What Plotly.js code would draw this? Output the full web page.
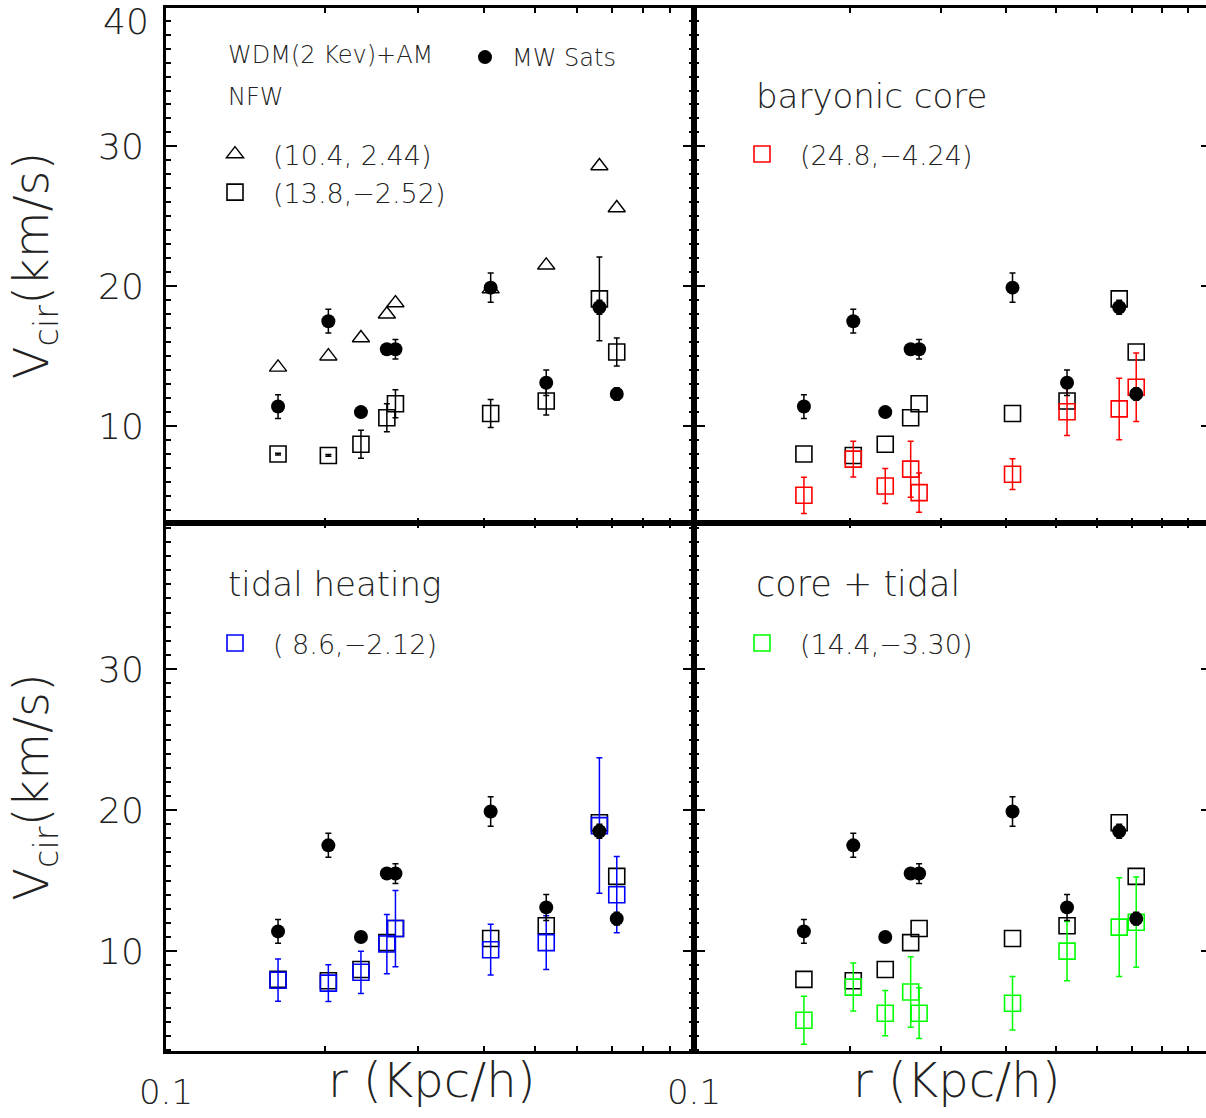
<!DOCTYPE html>
<html><head><meta charset="utf-8">
<script src="https://cdn.plot.ly/plotly-3.0.1.min.js"></script>
<style>html,body{margin:0;padding:0;overflow:hidden;background:#fff}</style>
</head><body><div id="chart" style="width:1220px;height:1118px"></div>
<script>
// ---- data ----
const radius = [0.163, 0.203, 0.234, 0.262, 0.272, 0.412, 0.525, 0.662, 0.714];
const mwSatsV = [11.4, 17.5, 11.0, 15.5, 15.5, 19.9, 13.1, 18.5, 12.3];
const mwSatsErr = [0.85, 0.85, 0.3, 0.3, 0.7, 1.05, 0.92, 0.5, 0.45];
const nfwTriV = [14.2, 15.0, 16.3, 18.0, 18.8, 19.8, 21.5, 28.6, 25.6];
const nfwSqV = [8.0, 7.9, 8.7, 10.6, 11.6, 10.9, 11.8, 19.1, 15.3];
const nfwSqErr = [0.06, 0.06, 1.0, 1.0, 1.0, 1.0, 1.0, 3.0, 1.0];
const coreV = [5.05, 7.64, 5.72, 6.92, 5.24, 6.56, 11.03, 11.23, 12.78];
const coreErr = [1.3, 1.28, 1.25, 2.0, 1.4, 1.1, 1.7, 2.2, 2.45];
const tidalV = [7.94, 7.73, 8.5, 10.5, 11.6, 10.1, 10.6, 18.9, 14.0];
const tidalErr = [1.5, 1.3, 1.5, 2.1, 2.7, 1.8, 1.9, 4.8, 2.7];
const coreTidalV = [5.1, 7.45, 5.6, 7.1, 5.6, 6.3, 10.0, 11.7, 12.05];
const coreTidalErr = [1.7, 1.7, 1.6, 2.5, 1.8, 1.9, 2.1, 3.5, 3.2];

const labelTri = "(10.4, 2.44)";
const labelSq = "(13.8,\u22122.52)";
const labelCore = "(24.8,\u22124.24)";
const labelTidal = "( 8.6,\u22122.12)";
const labelCoreTidal = "(14.4,\u22123.30)";
const labelMW = "MW Sats";
const panelTitles = ["baryonic core", "tidal heating", "core + tidal"];
const xTickVals = [0.1];
const xTickText = ["0.1"];
const xMinorVals = [0.2, 0.3, 0.4, 0.5, 0.6, 0.7, 0.8, 0.9];
const yTickVals = [10, 20, 30];
const yTickText = ["10", "20", "30"];

// ---- styling ----
const FONT = "DejaVu Sans";
const BLACK = "#000000", RED = "#ff0000", BLUE = "#0000ff", GREEN = "#00ff00";
const panels = [["x", "y"], ["x2", "y2"], ["x3", "y3"], ["x4", "y4"]];

function errs(arr, color) {
  return {type: "data", array: arr, visible: true, color: color, thickness: 1.5, width: 3};
}
function sq(color) { return {symbol: "square-open", size: 16, color: color, line: {width: 1.6, color: color}}; }

const traces = [];
// black NFW squares
panels.forEach((p, i) => {
  traces.push({
    type: "scatter", mode: "markers", x: radius, y: nfwSqV, xaxis: p[0], yaxis: p[1],
    name: labelSq, showlegend: i === 0, legend: "legend", legendrank: 2,
    marker: sq(BLACK), error_y: i === 0 ? errs(nfwSqErr, BLACK) : {visible: false}
  });
});
// coloured model squares
traces.push({type: "scatter", mode: "markers", x: radius, y: coreV, xaxis: "x2", yaxis: "y2",
  name: labelCore, legend: "legend3", marker: sq(RED), error_y: errs(coreErr, RED)});
traces.push({type: "scatter", mode: "markers", x: radius, y: tidalV, xaxis: "x3", yaxis: "y3",
  name: labelTidal, legend: "legend4", marker: sq(BLUE), error_y: errs(tidalErr, BLUE)});
traces.push({type: "scatter", mode: "markers", x: radius, y: coreTidalV, xaxis: "x4", yaxis: "y4",
  name: labelCoreTidal, legend: "legend5", marker: sq(GREEN), error_y: errs(coreTidalErr, GREEN)});
// triangles
traces.push({type: "scatter", mode: "markers", x: radius, y: nfwTriV, xaxis: "x", yaxis: "y",
  name: labelTri, legend: "legend", legendrank: 1,
  marker: {symbol: "triangle-up-open", size: 15, color: BLACK, line: {width: 1.4, color: BLACK}}});
// MW satellites (filled circles)
panels.forEach((p, i) => {
  traces.push({
    type: "scatter", mode: "markers", x: radius, y: mwSatsV, xaxis: p[0], yaxis: p[1],
    name: labelMW, showlegend: i === 0, legend: "legend2",
    marker: {symbol: "circle", size: 14, color: BLACK}, error_y: errs(mwSatsErr, BLACK)
  });
});

const XS = 528 / 1046, YS = 528 / 1043;
function xax(dom, anchor, showLabels) {
  return {domain: dom, anchor: anchor, type: "log", range: [-1, 0],
    tickmode: "array", tickvals: xTickVals, ticktext: xTickText, showticklabels: showLabels,
    ticks: "inside", ticklen: 5, tickwidth: 2, tickcolor: BLACK,
    minor: {tickmode: "array", tickvals: xMinorVals, ticks: "inside", ticklen: 5, tickwidth: 2, tickcolor: BLACK, showgrid: false},
    showline: true, linewidth: 3, linecolor: BLACK, mirror: "ticks",
    showgrid: false, zeroline: false, ticklabelstandoff: 9,
    tickfont: {family: FONT, size: 34, color: "#222", weight: 200}};
}
function yax(dom, anchor, range, showLabels, withTitle) {
  const a = {domain: dom, anchor: anchor, range: range,
    tickmode: "array", tickvals: yTickVals, ticktext: yTickText, showticklabels: showLabels,
    ticks: "inside", ticklen: 11, tickwidth: 2, tickcolor: BLACK,
    minor: {tickmode: "linear", tick0: 0, dtick: 1, ticks: "inside", ticklen: 5, tickwidth: 2, tickcolor: BLACK, showgrid: false},
    showline: true, linewidth: 3, linecolor: BLACK, mirror: "ticks",
    showgrid: false, zeroline: false, ticklabelstandoff: 12,
    tickfont: {family: FONT, size: 36, color: "#222", weight: 200}};
  if (withTitle) a.title = {text: "V<sub>cir</sub>(km/s)", standoff: 35,
    font: {family: FONT, size: 48, color: "#222", weight: 200}};
  return a;
}
const topRange = [3.07, 39.9], botRange = [2.92, 40.35];

function legendAt(xpx, ytop, size, iw) {
  const l = {x: (xpx - 166) / 1046, y: (1051 - ytop) / 1043, xanchor: "left", yanchor: "top",
    bgcolor: "rgba(0,0,0,0)", borderwidth: 0, tracegroupgap: 4,
    font: {family: FONT, size: size, color: "#222", weight: 200}};
  if (iw) l.itemwidth = iw;
  return l;
}
function ann(text, xpx, ypx, size, anchor) {
  return {text: text, xref: "paper", yref: "paper", x: (xpx - 166) / 1046, y: (1051 - ypx) / 1043,
    xanchor: anchor || "left", yanchor: "middle", showarrow: false,
    font: {family: FONT, size: size, color: "#222", weight: 200}};
}

const layout = {
  width: 1220, height: 1118,
  margin: {l: 166, r: 8, t: 8, b: 67},
  paper_bgcolor: "#ffffff", plot_bgcolor: "#ffffff",
  font: {family: FONT, color: "#222"},
  showlegend: true,
  xaxis: xax([0, XS], "y", false),
  yaxis: yax([YS, 1], "x", topRange, true, true),
  xaxis2: xax([XS, 1], "y2", false),
  yaxis2: yax([YS, 1], "x2", topRange, false, false),
  xaxis3: xax([0, XS], "y3", true),
  yaxis3: yax([0, YS], "x3", botRange, true, true),
  xaxis4: xax([XS, 1], "y4", true),
  yaxis4: yax([0, YS], "x4", botRange, false, false),
  legend: legendAt(197, 130, 27, 66),
  legend2: legendAt(458, 35, 24, 44),
  legend3: legendAt(724, 130, 27, 66),
  legend4: legendAt(197, 619, 27, 66),
  legend5: legendAt(724, 619, 27, 66),
  annotations: [
    ann("WDM(2 Kev)+AM", 226, 55, 24),
    ann("NFW", 226, 97, 24),
    ann(panelTitles[0], 754, 96, 34),
    ann(panelTitles[1], 226, 584, 34),
    ann(panelTitles[2], 754, 584, 35),
    ann("r (Kpc/h)", 431, 1080, 48, "center"),
    ann("r (Kpc/h)", 957, 1080, 48, "center"),
    ann("40", 151, 22, 36, "right")
  ]
};

Plotly.newPlot("chart", traces, layout, {displayModeBar: false, staticPlot: true});
</script></body></html>
